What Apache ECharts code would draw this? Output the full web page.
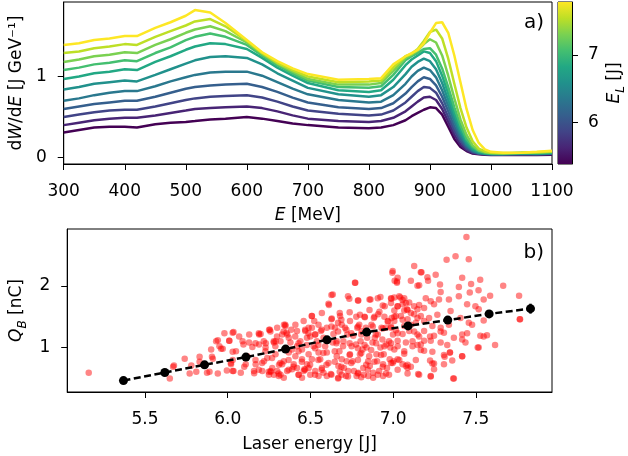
<!DOCTYPE html>
<html>
<head>
<meta charset="utf-8">
<title>Electron spectra and beam charge vs laser energy</title>
<script src="https://cdn.jsdelivr.net/npm/echarts@6.0.0/dist/echarts.min.js"></script>
<style>
  html, body { margin: 0; padding: 0; background: #fff; }
  #main { width: 628px; height: 456px; }
</style>
</head>
<body>
<div id="main"></div>
<script>
// electron energy axis of the spectra [MeV]
const energyMeV = [300, 325, 350, 375, 400, 420, 450, 475, 500, 515, 540, 565, 600, 625, 650, 675, 700, 750, 800,
  820, 840, 860, 870, 880, 890, 900, 910, 920, 930, 940, 950, 960, 970, 980, 990, 1000, 1020, 1050, 1075, 1100];

// dW/dE [J/GeV], one spectrum per laser energy bin, lowest bin first
const spectra = [
  [0.31, 0.34, 0.37, 0.38, 0.38, 0.37, 0.41, 0.43, 0.44, 0.45, 0.47, 0.48, 0.50, 0.48, 0.45, 0.42, 0.40, 0.37, 0.36,
   0.37, 0.40, 0.46, 0.51, 0.55, 0.59, 0.62, 0.61, 0.53, 0.38, 0.23, 0.13, 0.08, 0.05, 0.04, 0.035, 0.03, 0.03, 0.03, 0.03, 0.035],
  [0.40, 0.43, 0.46, 0.48, 0.49, 0.49, 0.52, 0.55, 0.58, 0.60, 0.61, 0.62, 0.63, 0.61, 0.57, 0.52, 0.48, 0.45, 0.44,
   0.45, 0.49, 0.57, 0.63, 0.69, 0.74, 0.75, 0.71, 0.60, 0.44, 0.28, 0.16, 0.09, 0.055, 0.045, 0.04, 0.035, 0.035, 0.035, 0.04, 0.04],
  [0.50, 0.53, 0.56, 0.58, 0.59, 0.59, 0.63, 0.67, 0.71, 0.73, 0.75, 0.76, 0.77, 0.74, 0.69, 0.63, 0.58, 0.54, 0.52,
   0.53, 0.58, 0.68, 0.75, 0.82, 0.87, 0.86, 0.80, 0.67, 0.50, 0.33, 0.20, 0.11, 0.065, 0.05, 0.04, 0.04, 0.035, 0.04, 0.04, 0.045],
  [0.60, 0.63, 0.66, 0.68, 0.70, 0.70, 0.75, 0.80, 0.85, 0.87, 0.89, 0.90, 0.91, 0.87, 0.81, 0.74, 0.68, 0.62, 0.60,
   0.61, 0.67, 0.79, 0.87, 0.94, 0.99, 0.97, 0.89, 0.75, 0.57, 0.38, 0.23, 0.13, 0.075, 0.05, 0.045, 0.04, 0.04, 0.045, 0.04, 0.05],
  [0.70, 0.73, 0.77, 0.80, 0.82, 0.82, 0.88, 0.94, 0.99, 1.02, 1.05, 1.06, 1.06, 1.01, 0.93, 0.85, 0.78, 0.71, 0.68,
   0.69, 0.77, 0.91, 1.00, 1.07, 1.11, 1.08, 0.99, 0.83, 0.64, 0.44, 0.27, 0.15, 0.085, 0.055, 0.045, 0.04, 0.04, 0.05, 0.045, 0.05],
  [0.84, 0.87, 0.91, 0.93, 0.95, 0.94, 1.02, 1.09, 1.16, 1.20, 1.24, 1.25, 1.23, 1.15, 1.04, 0.95, 0.86, 0.78, 0.75,
   0.77, 0.87, 1.03, 1.12, 1.18, 1.22, 1.19, 1.09, 0.92, 0.71, 0.49, 0.31, 0.17, 0.095, 0.06, 0.05, 0.045, 0.045, 0.05, 0.05, 0.055],
  [0.97, 1.00, 1.04, 1.06, 1.09, 1.08, 1.18, 1.25, 1.33, 1.37, 1.41, 1.40, 1.34, 1.23, 1.11, 1.01, 0.92, 0.83, 0.81,
   0.83, 0.96, 1.14, 1.21, 1.26, 1.31, 1.29, 1.19, 1.01, 0.79, 0.55, 0.35, 0.20, 0.11, 0.07, 0.05, 0.045, 0.05, 0.055, 0.05, 0.06],
  [1.08, 1.11, 1.15, 1.17, 1.20, 1.19, 1.29, 1.36, 1.45, 1.49, 1.53, 1.49, 1.39, 1.26, 1.14, 1.04, 0.95, 0.87, 0.86,
   0.88, 1.02, 1.20, 1.25, 1.29, 1.34, 1.35, 1.27, 1.10, 0.87, 0.62, 0.40, 0.23, 0.13, 0.08, 0.06, 0.05, 0.05, 0.055, 0.06, 0.065],
  [1.18, 1.21, 1.25, 1.27, 1.30, 1.29, 1.39, 1.46, 1.54, 1.58, 1.62, 1.56, 1.42, 1.28, 1.16, 1.06, 0.97, 0.90, 0.90,
   0.92, 1.07, 1.23, 1.27, 1.32, 1.40, 1.46, 1.42, 1.26, 1.01, 0.73, 0.47, 0.28, 0.15, 0.09, 0.065, 0.055, 0.05, 0.06, 0.06, 0.07],
  [1.29, 1.31, 1.35, 1.37, 1.40, 1.39, 1.49, 1.56, 1.63, 1.68, 1.71, 1.62, 1.44, 1.29, 1.17, 1.08, 1.00, 0.93, 0.94,
   0.95, 1.11, 1.25, 1.28, 1.34, 1.44, 1.55, 1.58, 1.47, 1.22, 0.91, 0.61, 0.37, 0.20, 0.11, 0.075, 0.06, 0.055, 0.06, 0.065, 0.075],
  [1.39, 1.41, 1.45, 1.47, 1.50, 1.50, 1.60, 1.67, 1.75, 1.82, 1.79, 1.66, 1.45, 1.30, 1.19, 1.10, 1.03, 0.96, 0.97,
   0.98, 1.15, 1.25, 1.29, 1.33, 1.41, 1.54, 1.66, 1.67, 1.54, 1.26, 0.93, 0.60, 0.34, 0.18, 0.10, 0.07, 0.06, 0.06, 0.07, 0.085]
];

// binned laser energy [J], mean charge and error [nC]
const binEnergy = [5.37, 5.62, 5.86, 6.11, 6.35, 6.60, 6.84, 7.09, 7.33, 7.58, 7.83];
const binCharge = [0.465, 0.595, 0.72, 0.845, 0.975, 1.125, 1.25, 1.35, 1.445, 1.545, 1.63];
const binChargeErr = [0.03, 0.02, 0.02, 0.02, 0.02, 0.02, 0.02, 0.02, 0.03, 0.04, 0.08];

// single shots: [laser energy J, charge nC]
const shots = [
  [5.16, 0.59], [5.65, 0.50], [5.67, 0.69], [5.675, 0.71], [5.74, 0.82], [5.77, 0.58], [5.78, 0.71], [5.81, 0.61],
  [5.83, 0.85], [5.83, 0.77], [5.875, 0.59], [5.89, 0.61], [5.90, 0.97], [5.905, 0.85], [5.91, 0.82], [5.93, 1.10],
  [5.94, 1.12], [5.94, 0.58], [5.95, 1.02], [5.96, 0.98], [5.97, 0.98], [5.98, 1.23], [5.995, 0.63], [6.01, 1.11],
  [6.02, 0.73], [6.03, 0.62], [6.03, 1.24], [6.03, 0.93], [6.03, 0.80], [6.05, 0.94], [6.09, 1.10], [6.10, 0.69],
  [6.13, 1.21], [6.16, 0.585], [6.19, 1.21], [6.23, 1.07], [6.25, 1.29], [6.26, 0.61], [6.29, 1.10], [6.31, 0.72],
  [6.34, 1.37], [6.36, 1.21],
  [6.035, 1.25], [6.009, 1.11], [6.069, 1.18], [6.095, 1.05], [6.129, 1.08], [6.149, 1.01], [6.199, 1.22], [6.189, 1.05],
  [6.255, 1.29], [6.279, 1.08], [6.019, 0.75], [6.035, 0.62], [6.079, 0.59], [6.109, 0.73], [6.119, 0.86], [6.159, 0.62],
  [6.169, 0.73], [6.209, 0.62], [6.219, 0.78], [6.249, 0.56], [6.259, 0.62], [6.279, 0.56], [6.299, 0.62], [6.309, 0.54],
  [6.319, 0.56], [6.329, 0.73], [6.339, 0.78], [6.349, 1.35], [6.355, 1.24], [6.369, 1.16], [6.379, 1.08], [6.369, 0.92],
  [6.389, 0.97], [6.399, 0.73], [6.409, 0.86], [6.419, 0.67], [6.429, 0.56], [6.449, 0.51], [6.459, 0.62], [6.469, 1.27],
  [6.479, 1.16], [6.489, 1.32], [6.509, 1.51], [6.519, 1.02], [6.529, 1.21], [6.539, 1.10], [6.549, 0.92], [6.559, 0.81],
  [6.569, 0.67], [6.579, 0.59], [6.529, 0.62], [6.499, 0.56], [6.599, 1.32], [6.609, 1.71], [6.635, 1.86], [6.629, 1.47],
  [6.639, 1.22], [6.659, 0.86], [6.669, 0.70], [6.679, 1.51], [6.689, 1.37], [6.699, 1.10], [6.709, 1.32], [6.719, 0.78],
  [6.729, 0.62], [6.735, 1.79], [6.739, 1.43], [6.749, 1.02], [6.759, 1.19], [6.769, 2.05], [6.779, 0.54], [6.789, 1.76],
  [6.795, 1.37], [6.799, 0.89], [6.809, 1.27], [6.819, 0.67], [6.829, 1.49], [6.839, 1.00], [6.849, 0.78], [6.863, 1.78],
  [6.869, 1.37], [6.879, 0.59], [6.889, 1.16], [6.899, 0.89], [6.909, 1.54], [6.923, 1.82], [6.929, 1.32], [6.939, 0.73],
  [6.949, 1.67], [6.959, 1.05], [6.969, 1.43], [6.979, 0.81], [6.989, 1.79], [6.995, 2.21], [6.999, 1.21], [7.009, 2.08],
  [6.509, 1.32], [6.523, 1.43], [6.549, 1.37], [6.563, 1.27], [6.579, 1.16], [6.589, 1.02], [6.599, 0.92], [6.609, 0.75],
  [6.623, 0.57], [6.635, 1.08], [6.649, 1.32], [6.659, 1.10], [6.675, 0.94], [6.689, 0.81], [6.703, 0.67], [6.715, 0.54],
  [6.723, 1.21], [6.739, 0.89], [6.755, 0.78], [6.763, 0.62], [6.775, 1.05], [6.783, 1.32], [6.799, 1.53], [6.803, 1.10],
  [6.815, 0.97], [6.823, 0.56], [6.835, 1.32], [6.843, 1.16], [6.855, 0.86], [6.859, 0.70], [6.875, 1.08], [6.883, 1.48],
  [6.895, 1.21], [6.903, 0.78], [6.915, 0.62], [6.923, 1.00], [6.935, 1.13], [6.943, 0.89], [6.955, 1.32], [6.963, 0.67],
  [6.975, 1.10], [6.983, 1.00], [6.991, 1.48], [7.003, 0.78], [6.975, 0.56], [6.939, 0.54], [6.879, 0.51], [6.849, 0.54],
  [6.789, 0.59], [6.689, 0.56], [6.669, 0.51], [6.599, 0.54], [6.549, 0.54], [6.479, 0.73], [6.489, 0.89], [6.509, 0.81],
  [6.449, 0.97], [6.439, 1.10], [6.419, 1.02], [6.449, 0.81], [6.463, 0.65], [6.489, 0.67], [6.389, 0.65], [6.359, 0.62],
  [6.339, 0.51], [6.269, 0.67], [6.289, 0.89], [6.239, 0.83], [6.229, 1.00], [6.319, 1.10], [6.329, 1.21], [6.299, 1.32],
  [6.419, 1.27], [6.409, 1.37], [6.499, 1.18], [6.569, 1.56], [6.459, 1.43],
  [7.443, 2.79], [7.377, 2.48], [7.457, 2.43], [7.323, 2.42], [7.127, 2.32], [6.997, 2.24], [7.167, 2.22], [7.257, 2.18],
  [7.417, 2.13], [7.526, 2.10], [7.665, 2.00], [7.027, 2.13], [7.207, 2.14], [7.211, 2.08], [7.023, 2.07], [7.107, 2.08],
  [7.283, 2.02], [7.397, 1.98], [7.157, 2.01], [7.516, 1.93], [7.586, 1.84], [7.463, 1.89], [7.761, 1.84], [7.547, 1.78],
  [7.007, 1.81], [7.043, 1.81], [7.067, 1.80], [7.197, 1.80], [7.287, 1.90], [7.277, 1.78], [7.337, 1.78], [7.397, 1.83],
  [6.987, 1.72], [7.027, 1.67], [7.057, 1.70], [7.097, 1.73], [7.227, 1.75], [7.247, 1.70], [7.447, 1.70], [7.517, 1.62],
  [7.497, 1.67], [7.007, 1.60], [7.067, 1.60], [7.083, 1.62], [7.147, 1.62], [7.187, 1.64], [7.017, 1.51], [7.047, 1.51],
  [7.087, 1.46], [7.127, 1.54], [7.167, 1.51], [7.217, 1.48], [7.267, 1.53], [7.347, 1.59], [7.007, 1.43], [7.067, 1.35],
  [7.107, 1.37], [7.137, 1.40], [7.187, 1.43], [7.237, 1.35], [7.287, 1.32], [7.337, 1.37], [7.407, 1.48], [7.477, 1.37],
  [7.547, 1.44], [7.765, 1.46], [7.017, 1.28], [7.057, 1.22], [7.097, 1.27], [7.147, 1.21], [7.187, 1.27], [7.247, 1.19],
  [7.307, 1.24], [7.367, 1.16], [7.417, 1.21], [7.527, 1.19], [7.567, 1.20], [7.027, 1.11], [7.077, 1.08], [7.117, 1.10],
  [7.167, 1.05], [7.227, 1.11], [7.287, 1.08], [7.437, 1.08], [7.616, 1.04], [7.517, 1.00], [7.007, 0.97], [7.067, 0.90],
  [7.187, 0.95], [7.237, 0.93], [7.307, 0.88], [7.343, 0.92], [7.027, 0.81], [7.057, 0.73], [7.087, 0.67], [7.223, 0.79],
  [7.237, 0.74], [7.247, 0.65], [7.307, 0.73], [7.417, 0.86], [7.357, 0.79], [7.157, 0.56], [7.227, 0.54], [7.367, 0.50],
  [6.997, 0.75], [6.987, 1.32],
  [6.627, 1.85], [6.771, 2.05], [7.023, 2.05], [7.147, 2.00], [6.612, 1.69], [6.727, 1.83], [6.787, 1.76], [6.857, 1.78],
  [6.907, 1.80], [6.987, 1.80], [7.037, 1.83], [7.057, 1.77], [6.937, 1.68], [7.027, 1.67], [7.077, 1.72], [7.087, 1.61],
  [7.127, 1.67], [7.157, 1.69], [6.508, 1.51], [6.677, 1.56], [6.737, 1.57], [6.687, 1.45], [6.777, 1.50], [6.827, 1.50],
  [6.857, 1.61], [6.887, 1.50], [6.917, 1.58], [6.947, 1.50], [6.967, 1.42], [7.007, 1.50], [7.057, 1.45], [7.107, 1.56],
  [7.147, 1.48], [6.627, 1.46], [6.667, 1.40], [6.348, 1.37], [6.384, 1.29], [6.338, 1.26], [6.468, 1.29], [6.488, 1.23],
  [6.528, 1.21], [6.568, 1.29], [6.627, 1.34], [6.667, 1.26], [6.717, 1.29], [6.747, 1.23], [6.787, 1.34], [6.807, 1.21],
  [6.877, 1.34], [6.907, 1.21], [6.937, 1.31], [6.987, 1.34], [7.027, 1.23], [7.127, 1.26], [7.157, 1.18], [6.258, 1.26],
  [6.188, 1.23], [6.298, 1.18], [6.408, 1.18], [6.168, 1.07], [6.218, 1.10], [6.278, 1.10], [6.288, 1.02], [6.228, 0.94],
  [6.428, 1.07], [6.478, 1.04], [6.528, 0.99], [6.548, 1.04], [6.657, 1.07], [6.697, 1.02], [6.737, 1.07], [6.787, 0.99],
  [6.827, 1.04], [6.867, 0.96], [6.897, 1.07], [6.947, 1.02], [6.987, 1.07], [7.027, 1.02], [7.067, 0.94], [7.117, 1.02],
  [7.147, 1.04], [6.428, 0.94], [6.578, 0.91], [6.647, 0.94], [6.737, 0.88], [6.807, 0.91], [6.927, 0.88], [6.168, 0.80],
  [6.208, 0.75], [6.268, 0.83], [6.318, 0.75], [6.368, 0.80], [6.398, 0.69], [6.448, 0.77], [6.498, 0.72], [6.548, 0.80],
  [6.597, 0.72], [6.647, 0.77], [6.687, 0.69], [6.747, 0.75], [6.787, 0.80], [6.837, 0.72], [6.887, 0.77], [6.937, 0.69],
  [6.987, 0.75], [7.037, 0.80], [7.087, 0.72], [7.137, 0.80], [6.248, 0.61], [6.308, 0.58], [6.368, 0.64], [6.428, 0.56],
  [6.468, 0.64], [6.528, 0.56], [6.568, 0.64], [6.627, 0.56], [6.677, 0.61], [6.727, 0.53], [6.787, 0.58], [6.847, 0.64],
  [6.907, 0.56], [6.957, 0.58], [7.027, 0.64], [7.087, 0.58], [6.188, 0.64], [6.667, 0.50], [6.807, 0.52],
  [7.171, 2.22], [7.471, 2.03], [7.767, 1.46], [7.511, 1.00], [7.417, 0.86], [7.363, 0.50], [7.227, 0.53], [7.151, 0.57],
  [7.247, 0.74], [7.311, 0.85], [7.343, 0.92], [7.167, 0.96], [7.187, 1.11], [7.223, 1.18], [7.287, 1.26], [7.447, 1.23],
  [7.547, 1.18], [7.417, 1.13], [7.327, 1.04], [7.107, 0.69], [7.077, 0.70], [7.457, 1.40]
];

const colorbarRange = [5.39, 7.78];
const colorbarTicks = [6, 7];
const viridis = ['#440154', '#482475', '#414487', '#355f8d', '#2a788e', '#21918c',
  '#22a884', '#44bf70', '#7ad151', '#bddf26', '#fde725'];

const FONT = 'DejaVu Sans';
const FS = 17;

function axisBase(extra) {
  return Object.assign({
    type: 'value',
    axisLine: { show: true, onZero: false, lineStyle: { color: '#000', width: 1 } },
    axisTick: { show: true, inside: false, length: 6, lineStyle: { color: '#000', width: 1 } },
    axisLabel: { color: '#000', fontSize: FS, fontFamily: FONT, margin: 19, formatter: v => String(v) },
    splitLine: { show: false },
    nameLocation: 'middle',
    nameTextStyle: {
      color: '#000', fontSize: FS, fontFamily: FONT,
      rich: {
        n: { fontSize: FS, fontFamily: FONT, color: '#000', lineHeight: 24, verticalAlign: 'middle' },
        i: { fontSize: FS, fontFamily: FONT, color: '#000', fontStyle: 'italic', lineHeight: 24, verticalAlign: 'middle' },
        s: { fontSize: 12, fontFamily: FONT, color: '#000', fontStyle: 'italic', lineHeight: 12, verticalAlign: 'bottom' }
      }
    }
  }, extra);
}

function ticksAt(values, margin, fmt) {
  return {
    axisTick: { show: true, length: 6, lineStyle: { color: '#000', width: 1 }, customValues: values },
    axisLabel: { color: '#000', fontSize: FS, fontFamily: FONT, margin: margin,
      customValues: values, formatter: fmt || (v => String(v)) }
  };
}

const spectrumSeries = spectra.map((vals, k) => ({
  type: 'line',
  xAxisIndex: 0,
  yAxisIndex: 0,
  data: energyMeV.map((e, j) => [e, vals[j]]),
  showSymbol: false,
  lineStyle: { color: viridis[k], width: 2.5 },
  z: 2 + k
}));

const chart = echarts.init(document.getElementById('main'), null, { renderer: 'canvas' });

chart.setOption({
  animation: false,
  backgroundColor: '#fff',
  textStyle: { fontFamily: FONT },
  grid: [
    { left: 63, top: 2, width: 489, height: 162, show: true, borderColor: '#000', borderWidth: 1 },
    { left: 63, top: 229, width: 489, height: 163, show: true, borderColor: '#000', borderWidth: 1 },
    { left: 558, top: 2, width: 17, height: 162, show: true, borderColor: '#000', borderWidth: 1 }
  ],
  xAxis: [
    axisBase({ gridIndex: 0, min: 300, max: 1100, interval: 100,
      name: '{i|E}{n| [MeV]}', nameGap: 40 }),
    axisBase(Object.assign({ gridIndex: 1, min: 5.03, max: 7.96,
      name: '{n|Laser energy [J]}', nameGap: 41 }, ticksAt([5.5, 6, 6.5, 7, 7.5], 19, v => v.toFixed(1)))),
    { gridIndex: 2, type: 'value', min: 0, max: 1, show: false }
  ],
  yAxis: [
    axisBase(Object.assign({ gridIndex: 0, min: -0.08, max: 1.92,
      name: '{n|d}{i|W}{n|/d}{i|E}{n| [J GeV⁻¹]}', nameGap: 32, nameRotate: 90 }, ticksAt([0, 1], 17))),
    axisBase(Object.assign({ gridIndex: 1, min: 0.28, max: 2.92,
      name: '{i|Q}{s|B}{n| [nC]}', nameGap: 31, nameRotate: 90 }, ticksAt([1, 2], 17))),
    axisBase(Object.assign({ gridIndex: 2, position: 'right', min: colorbarRange[0], max: colorbarRange[1],
      name: '{i|E}{s|L}{n| [J]}', nameGap: 31, nameRotate: 90 }, ticksAt(colorbarTicks, 16)))
  ],
  graphic: [
    { type: 'text', right: 84, top: 13, style: { text: 'a)', font: '20px "DejaVu Sans"', fill: '#000' }, z: 100 },
    { type: 'text', right: 84, top: 243, style: { text: 'b)', font: '20px "DejaVu Sans"', fill: '#000' }, z: 100 }
  ],
  series: spectrumSeries.concat([
    {
      type: 'custom',
      xAxisIndex: 2,
      yAxisIndex: 2,
      data: [[0]],
      renderItem: (params, api) => {
        const p0 = api.coord([0, colorbarRange[0]]);
        const p1 = api.coord([1, colorbarRange[1]]);
        return {
          type: 'rect',
          shape: { x: p0[0], y: p1[1], width: p1[0] - p0[0], height: p0[1] - p1[1] },
          style: {
            fill: new echarts.graphic.LinearGradient(0, 1, 0, 0,
              viridis.map((c, i) => ({ offset: i / (viridis.length - 1), color: c })))
          }
        };
      },
      z: 1
    },
    {
      type: 'scatter',
      xAxisIndex: 1,
      yAxisIndex: 1,
      data: shots,
      symbolSize: 6.5,
      itemStyle: { color: 'rgba(255,0,0,0.6)' },
      z: 2
    },
    {
      type: 'line',
      xAxisIndex: 1,
      yAxisIndex: 1,
      data: binEnergy.map((x, i) => [x, binCharge[i]]),
      symbol: 'circle',
      symbolSize: 9,
      itemStyle: { color: '#000' },
      lineStyle: { color: '#000', width: 2.5, type: [7, 3.5] },
      z: 5
    },
    {
      type: 'custom',
      xAxisIndex: 1,
      yAxisIndex: 1,
      data: binEnergy.map((x, i) => [x, binCharge[i], binChargeErr[i]]),
      renderItem: (params, api) => {
        const x = api.value(0), y = api.value(1), e = api.value(2);
        const a = api.coord([x, y + e]);
        const b = api.coord([x, y - e]);
        return { type: 'line', shape: { x1: a[0], y1: a[1], x2: b[0], y2: b[1] },
          style: { stroke: '#000', lineWidth: 2.5 } };
      },
      z: 6
    }
  ])
});
</script>
</body>
</html>
